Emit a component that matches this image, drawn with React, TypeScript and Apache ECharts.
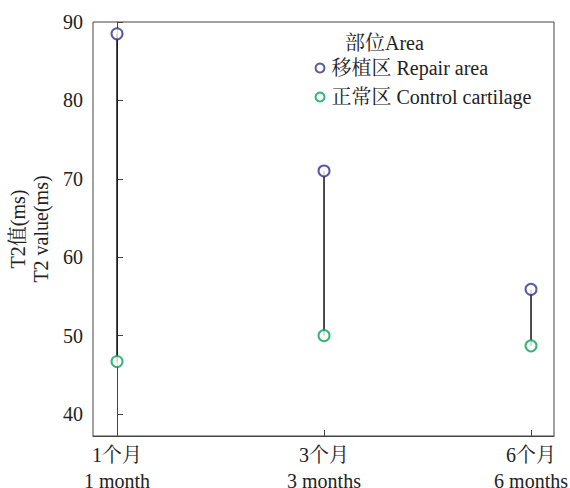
import React, { useEffect, useRef } from "react";
import * as echarts from "echarts";

const categories = ["1个月\n1 month", "3个月\n3 months", "6个月\n6 months"];
const repairArea = [88.5, 71.0, 55.9];
const controlCartilage = [46.7, 50.0, 48.7];
const yTicks = [40, 50, 60, 70, 80, 90];
const seriesNames = ["移植区 Repair area", "正常区 Control cartilage"];
const legendTitle = "部位Area";
const yName = "T2值(ms)\nT2 value(ms)";

const FONT = "'Liberation Serif', 'Times New Roman', 'Noto Serif CJK SC', 'Noto Sans CJK SC', serif";

export default function App() {
  const ref = useRef<HTMLDivElement>(null);
  useEffect(() => {
    if (!ref.current) return;
    const chart = echarts.init(ref.current, undefined, { renderer: "svg" });
    const idx = categories.map((_, i) => i);
    const option: any = {
      animation: false,
      backgroundColor: "#fff",
      textStyle: { fontFamily: FONT },
      title: {
        text: legendTitle,
        left: 340,
        top: 28,
        textStyle: { fontFamily: FONT, fontSize: 20, fontWeight: "normal", color: "#222" },
      },
      legend: {
        left: 309.5,
        top: 53,
        orient: "vertical",
        itemWidth: 9,
        itemHeight: 9,
        itemGap: 9,
        data: seriesNames,
        textStyle: { fontFamily: FONT, fontSize: 20, color: "#222", padding: [0, 0, 0, 2] },
      },
      grid: {
        left: 93,
        right: 16,
        top: 22,
        bottom: 52,
        show: true,
        borderColor: "#444",
        borderWidth: 1,
        containLabel: false,
        outerBoundsMode: "none",
      },
      xAxis: {
        type: "value",
        min: -0.116,
        max: 2.111,
        splitLine: { show: false },
        axisLine: { show: true, lineStyle: { color: "#444", width: 1 } },
        axisTick: { show: true, inside: true, length: 6, customValues: idx, lineStyle: { color: "#444" } },
        axisLabel: {
          customValues: idx,
          formatter: (v: number) => categories[Math.round(v)] ?? "",
          fontFamily: FONT,
          fontSize: 20,
          color: "#222",
          lineHeight: 26,
          margin: 6,
        },
      },
      yAxis: {
        type: "value",
        min: 37.2,
        max: 90,
        name: yName,
        nameLocation: "middle",
        nameGap: 38,
        nameRotate: 90,
        nameTextStyle: { fontFamily: FONT, fontSize: 20, color: "#222", lineHeight: 23 },
        splitLine: { show: false },
        axisLine: { show: true, lineStyle: { color: "#444", width: 1 } },
        axisTick: { show: true, inside: true, length: 6, customValues: yTicks, lineStyle: { color: "#444" } },
        axisLabel: {
          customValues: yTicks,
          fontFamily: FONT,
          fontSize: 20,
          color: "#222",
          margin: 10,
        },
      },
      series: [
        {
          type: "custom",
          silent: true,
          z: 1,
          data: idx.map((i) => [i, controlCartilage[i], repairArea[i]]),
          renderItem: (params: any, api: any) => {
            const p1 = api.coord([api.value(0), api.value(1)]);
            const p2 = api.coord([api.value(0), api.value(2)]);
            return {
              type: "line",
              shape: { x1: p1[0], y1: p1[1], x2: p2[0], y2: p2[1] },
              style: { stroke: "#111", lineWidth: 1.5 },
            };
          },
        },
        {
          name: seriesNames[0],
          type: "scatter",
          z: 3,
          symbol: "emptyCircle",
          symbolSize: 11,
          itemStyle: { color: "#2e3192", borderColor: "#2e3192", borderWidth: 1.2 },
          data: idx.map((i) => [i, repairArea[i]]),
        },
        {
          name: seriesNames[1],
          type: "scatter",
          z: 3,
          symbol: "emptyCircle",
          symbolSize: 11,
          itemStyle: { color: "#00a651", borderColor: "#00a651", borderWidth: 1.2 },
          data: idx.map((i) => [i, controlCartilage[i]]),
        },
      ],
    };
    chart.setOption(option);
    return () => chart.dispose();
  }, []);
  return (
    <div
      ref={ref}
      style={{ position: "fixed", left: 0, top: 0, width: 570, height: 488 }}
    />
  );
}
